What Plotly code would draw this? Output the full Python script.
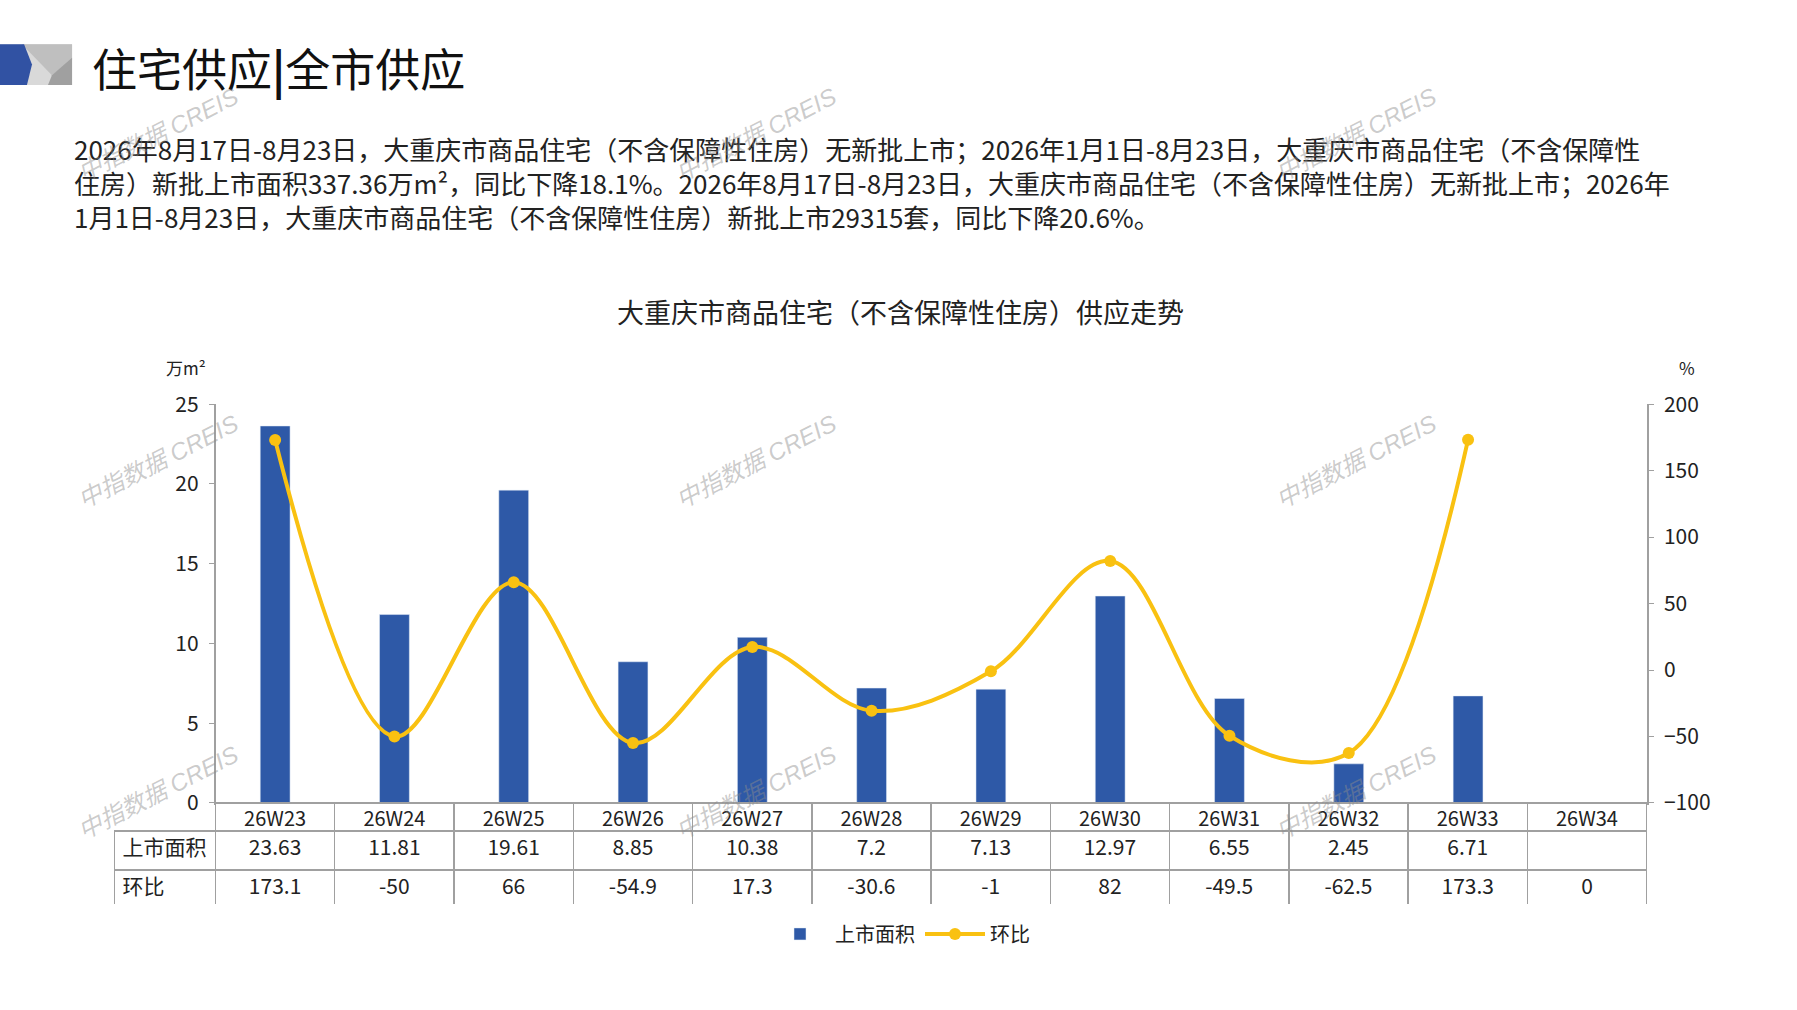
import plotly.graph_objects as go

W, H = 1797, 1010

weeks = ["26W23", "26W24", "26W25", "26W26", "26W27", "26W28",
         "26W29", "26W30", "26W31", "26W32", "26W33", "26W34"]
area = [23.63, 11.81, 19.61, 8.85, 10.38, 7.2, 7.13, 12.97, 6.55, 2.45, 6.71, None]
mom = [173.1, -50, 66, -54.9, 17.3, -30.6, -1, 82, -49.5, -62.5, 173.3, 0]

row_names = ["上市面积", "环比"]
page_title = "住宅供应<b>|</b>全市供应"
chart_title = "大重庆市商品住宅（不含保障性住房）供应走势"
para = [
    "2026年8月17日-8月23日，大重庆市商品住宅（不含保障性住房）无新批上市；2026年1月1日-8月23日，大重庆市商品住宅（不含保障性",
    "住房）新批上市面积337.36万m²，同比下降18.1%。2026年8月17日-8月23日，大重庆市商品住宅（不含保障性住房）无新批上市；2026年",
    "1月1日-8月23日，大重庆市商品住宅（不含保障性住房）新批上市29315套，同比下降20.6%。",
]

FONT = "Liberation Sans Narrow, Noto Sans CJK SC, sans-serif"
BLUE = "#2E59A7"
GOLD = "#F9C111"
GRID = "#A0A0A0"

# plot frame in pixels
X0, X1 = 215.5, 1647
Y0, Y1 = 399, 810
TBL_L = 114.6


def px(x):
    return x / W


def py(y):
    return 1 - y / H


def path(pts):
    s = "M " + " L ".join(f"{px(a):.4f},{py(b):.4f}" for a, b in pts)
    return s + " Z"


# only weeks with a value in 上市面积 get a point on the line
has_data = [a is not None for a in area]
line_x = [w for w, ok in zip(weeks, has_data) if ok]
line_y = [m for m, ok in zip(mom, has_data) if ok]

fig = go.Figure()
fig.add_trace(go.Bar(x=weeks, y=area, name="上市面积", marker_color=BLUE,
                     width=0.25, yaxis="y"))
fig.add_trace(go.Scatter(x=line_x, y=line_y, name="环比", yaxis="y2",
                         mode="lines+markers", line=dict(color=GOLD, width=4, shape="spline", smoothing=1),
                         marker=dict(size=12, color=GOLD)))

# table under the plot
fmt = lambda v: "" if v is None else f"{v:g}"
cols = [row_names] + [[fmt(a), fmt(m)] for a, m in zip(area, mom)]
n = len(weeks)
fig.add_trace(go.Table(
    domain=dict(x=[px(TBL_L), px(X1)], y=[py(915), py(Y1)]),
    columnwidth=[X0 - TBL_L] + [(X1 - X0) / n] * n,
    header=dict(values=[""] + weeks, height=28, align="center",
                fill_color=["rgba(0,0,0,0)"] + ["white"] * n,
                line=dict(color=["rgba(0,0,0,0)"] + [GRID] * n, width=1.5),
                font=dict(family=FONT, size=20, color="#222")),
    cells=dict(values=cols, height=39, align=["left"] + ["center"] * n,
               fill_color="white", line=dict(color=GRID, width=1.5),
               font=dict(family=FONT, size=21, color="#222")),
))

annotations = [
    dict(text=page_title, x=px(90), y=py(52), xanchor="left", yanchor="middle",
         font=dict(size=45, color="#111", family=FONT)),
    dict(text="<br>".join(para), x=px(72), y=py(114), xanchor="left", yanchor="top", align="left",
         font=dict(size=26, color="#222", family=FONT)),
    dict(text=chart_title, x=px(900), y=py(304), xanchor="center", yanchor="middle",
         font=dict(size=27, color="#222", family=FONT)),
    dict(text="万m²", x=px(186), y=py(361), xanchor="center", yanchor="middle",
         font=dict(size=17, color="#222", family=FONT)),
    dict(text="%", x=px(1687), y=py(361), xanchor="center", yanchor="middle",
         font=dict(size=17, color="#222", family=FONT)),
]
# watermarks
for wx in [158, 756, 1356]:
    for wy in [121, 458, 799]:
        annotations.append(dict(text="<i>中指数据 CREIS</i>", x=px(wx), y=py(wy), textangle=-27,
                                xanchor="center", yanchor="middle",
                                font=dict(size=24, color="rgba(140,140,140,0.45)",
                                          family="Liberation Sans, Noto Sans CJK SC")))
for a in annotations:
    a.update(xref="paper", yref="paper", showarrow=False)

# header logo
shapes = [
    dict(type="path", path=path([(0, 28), (72, 28), (72, 70), (0, 70)]), fillcolor="#D9D9D9", line_width=0),
    dict(type="path", path=path([(22, 28), (72, 28), (72, 44), (52, 60)]), fillcolor="#BFBFBF", line_width=0),
    dict(type="path", path=path([(72, 42), (72, 70), (48, 70), (52, 60)]), fillcolor="#A0A0A0", line_width=0),
    dict(type="path", path=path([(0, 28), (24, 28), (32, 49), (27, 70), (0, 70)]), fillcolor="#3152A3", line_width=0),
]
for s in shapes:
    s.update(xref="paper", yref="paper")

fig.update_layout(
    width=W, height=H, autosize=False,
    margin=dict(l=0, r=0, t=0, b=0),
    paper_bgcolor="white", plot_bgcolor="white",
    font=dict(family=FONT, size=20, color="#222"),
    showlegend=True,
    legend=dict(orientation="h", x=px(900), y=py(945), xanchor="center", yanchor="middle",
                font=dict(size=20, family=FONT), itemwidth=60, traceorder="normal"),
    xaxis=dict(domain=[px(X0), px(X1)], range=[-0.5, n - 0.5], showline=True,
               linecolor=GRID, linewidth=1.5, showticklabels=False, ticks="", showgrid=False,
               zeroline=False, fixedrange=True),
    yaxis=dict(domain=[py(Y1), py(Y0)], range=[0, 25], dtick=5, showline=True, linecolor=GRID,
               linewidth=1.5, ticks="outside", ticklen=5, tickcolor=GRID, showgrid=False,
               zeroline=False, tickfont=dict(size=21), ticklabelstandoff=6),
    yaxis2=dict(overlaying="y", side="right", range=[-100, 200], dtick=50, showline=True,
                linecolor=GRID, linewidth=1.5, ticks="outside", ticklen=5, tickcolor=GRID,
                showgrid=False, zeroline=False, tickfont=dict(size=21), ticklabelstandoff=6),
    annotations=annotations,
    shapes=shapes,
)

fig.write_html("out.html", config={"displayModeBar": False},
               post_script="document.body.style.margin='0';")
